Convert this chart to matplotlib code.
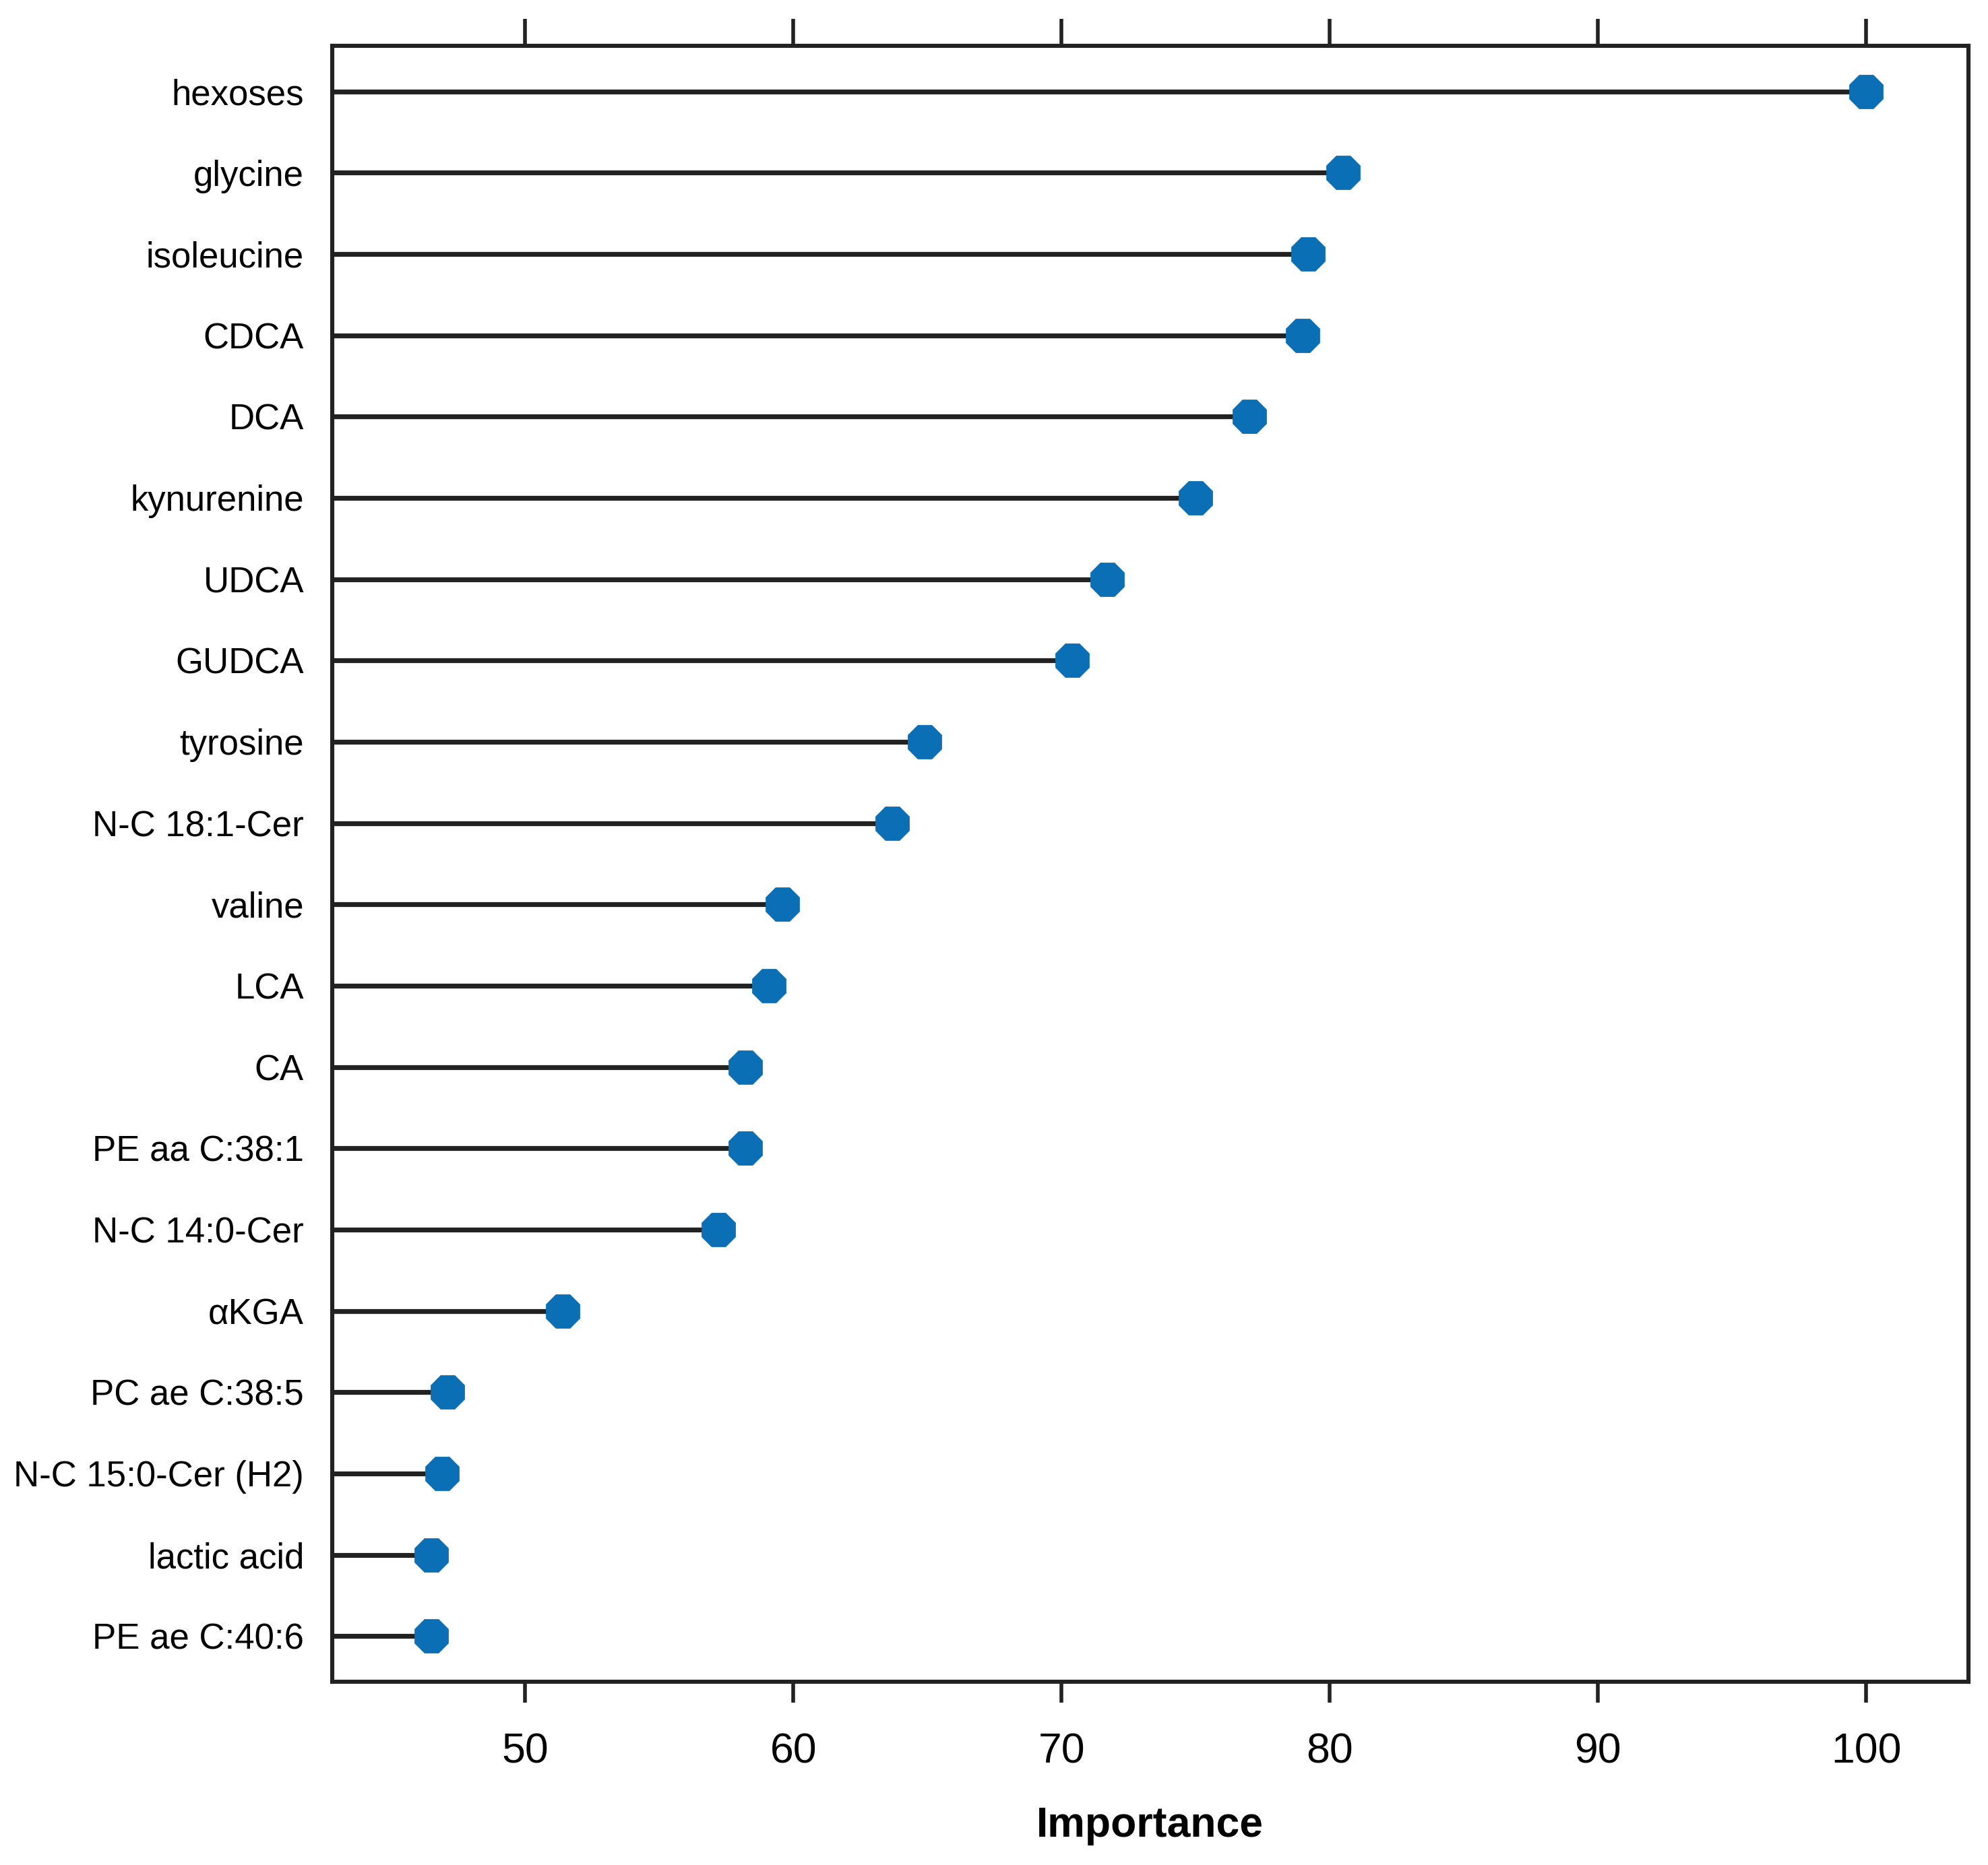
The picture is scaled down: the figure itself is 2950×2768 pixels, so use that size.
import matplotlib.pyplot as plt

plt.rcParams['font.family'] = ['Liberation Sans', 'DejaVu Sans']

features = ['hexoses', 'glycine', 'isoleucine', 'CDCA', 'DCA', 'kynurenine',
            'UDCA', 'GUDCA', 'tyrosine', 'N-C 18:1-Cer', 'valine', 'LCA', 'CA',
            'PE aa C:38:1', 'N-C 14:0-Cer', '\u03b1KGA', 'PC ae C:38:5',
            'N-C 15:0-Cer (H2)', 'lactic acid', 'PE ae C:40:6']
importance = [100.0, 80.5, 79.2, 79.0, 77.0, 75.0, 71.7, 70.4, 64.9, 63.7,
              59.6, 59.1, 58.2, 58.2, 57.2, 51.4, 47.1, 46.9, 46.5, 46.5]
xticks = [50, 60, 70, 80, 90, 100]

fig = plt.figure(figsize=(14.75, 13.84), dpi=200)
ax = fig.add_axes([0.167, 0.0983, 0.823, 0.8771])

xmin, xmax = 42.8, 103.8
ypos = list(range(len(features)))

ax.hlines(ypos, xmin, importance, color='#222222', lw=2.6, zorder=2)
ax.plot(importance, ypos, ls='none', marker='8', ms=18.5,
        mfc='#0a6fb5', mec='#0a6fb5', zorder=3)

ax.set_xlim(xmin, xmax)
ax.set_ylim(len(features) - 0.44, -0.56)
ax.set_yticks(ypos)
ax.set_yticklabels(features, fontsize=19)
ax.tick_params(axis='y', length=0, pad=15)

ax.set_xticks(xticks)
ax.set_xticklabels([str(t) for t in xticks], fontsize=22.5)
ax.tick_params(axis='x', which='both', direction='out', length=11, width=2,
               color='#222222', pad=16, top=True, bottom=True)

# longer ticks on top, no labels there
sec = ax.secondary_xaxis('top')
sec.set_xticks(xticks)
sec.set_xticklabels([])
sec.tick_params(length=14.5, width=2, color='#222222')
sec.spines['top'].set_visible(False)
ax.tick_params(axis='x', top=False)

for s in ax.spines.values():
    s.set_linewidth(2.2)
    s.set_color('#222222')

ax.set_xlabel('Importance', fontsize=22.5, fontweight='bold', labelpad=18)

fig.savefig('out.png', dpi=200, facecolor='white')
